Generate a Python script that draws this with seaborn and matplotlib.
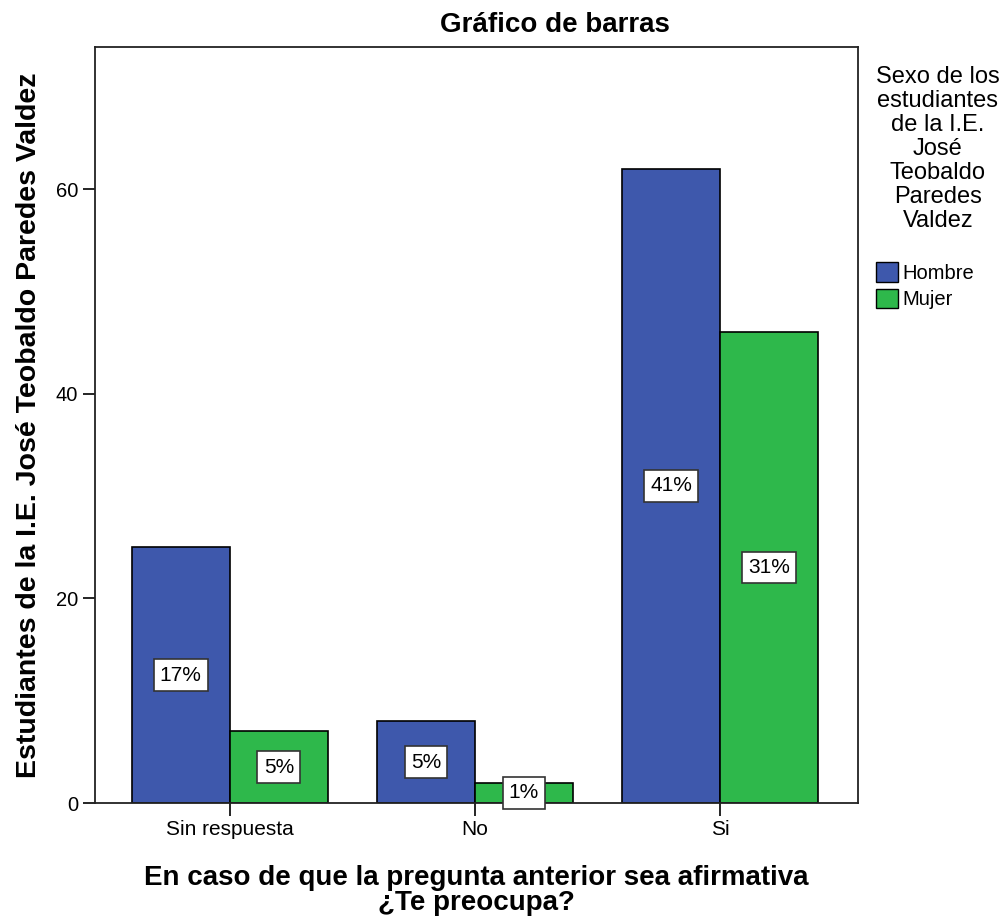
import matplotlib
matplotlib.use("Agg")
import matplotlib.pyplot as plt
import seaborn as sns
import pandas as pd
from matplotlib.patches import Patch

# Counts per answer and sex
categories = ["Sin respuesta", "No", "Si"]
sexes = ["Hombre", "Mujer"]
hombre = [25, 8, 62]
mujer = [7, 2, 46]
yticks = [0, 20, 40, 60]

colors = {"Hombre": "#3E58AC", "Mujer": "#2EB84B"}

df = pd.DataFrame({
    "respuesta": categories * 2,
    "sexo": ["Hombre"] * len(categories) + ["Mujer"] * len(categories),
    "n": hombre + mujer,
})
total = df["n"].sum()

sns.set_style("white")
plt.rcParams["font.family"] = ["Liberation Sans", "DejaVu Sans"]
plt.rcParams["text.color"] = "black"
plt.rcParams["axes.labelcolor"] = "black"

fig = plt.figure(figsize=(10.03, 9.21), dpi=100)
ax = fig.add_axes([95 / 1003, 1 - 803 / 921, (858 - 95) / 1003, (803 - 47) / 921])

sns.barplot(data=df, x="respuesta", y="n", hue="sexo", order=categories,
            hue_order=sexes, palette=colors, edgecolor="black", linewidth=1.2,
            width=0.8, saturation=1, ax=ax, legend=False)

ax.set_xlim(-0.55, 2.563)
ax.set_ylim(0, 73.9)
ax.set_yticks(yticks)
ax.tick_params(axis="both", direction="out", length=9, width=1.2,
               labelsize=15, colors="black", left=True, bottom=True, pad=3)
ax.tick_params(axis="y", labelsize=14.5)
for s in ax.spines.values():
    s.set_color("#222222")
    s.set_linewidth(1.3)

# Percent labels centred inside each bar
for cont in ax.containers:
    for bar in cont:
        h = bar.get_height()
        pct = round(h / total * 100)
        ax.text(bar.get_x() + bar.get_width() / 2, h / 2, f"{pct}%",
                ha="center", va="center", fontsize=15, color="black",
                bbox=dict(boxstyle="square,pad=0.3", facecolor="white",
                          edgecolor="#333333", linewidth=1.2))

ax.set_xlabel("En caso de que la pregunta anterior sea afirmativa\n¿Te preocupa?",
              fontsize=20, fontweight="bold", labelpad=19, linespacing=0.95)
ax.set_ylabel("Estudiantes de la I.E. José Teobaldo Paredes Valdez",
              fontsize=20.5, fontweight="bold", labelpad=10)

fig.text(555 / 1003, 1 - 25 / 921, "Gráfico de barras", ha="center", va="center",
         fontsize=20, fontweight="bold")

handles = [Patch(facecolor=colors[s], edgecolor="black", label=s) for s in sexes]
leg = fig.legend(handles=handles,
                 title="Sexo de los\nestudiantes\nde la I.E.\nJosé\nTeobaldo\nParedes\nValdez\n",
                 loc="upper left", bbox_to_anchor=(862 / 1003, 1 - 52 / 921),
                 frameon=False, fontsize=14.5, title_fontsize=17,
                 handlelength=1.1, handleheight=1.1, handletextpad=0.2,
                 labelspacing=0.3, borderpad=0.2)
leg.get_title().set_multialignment("center")
leg.get_title().set_linespacing(1.12)
leg._legend_box.align = "left"
for t in leg.get_texts():
    t.set_color("black")
leg.get_title().set_color("black")

fig.savefig("out.png", dpi=100)
